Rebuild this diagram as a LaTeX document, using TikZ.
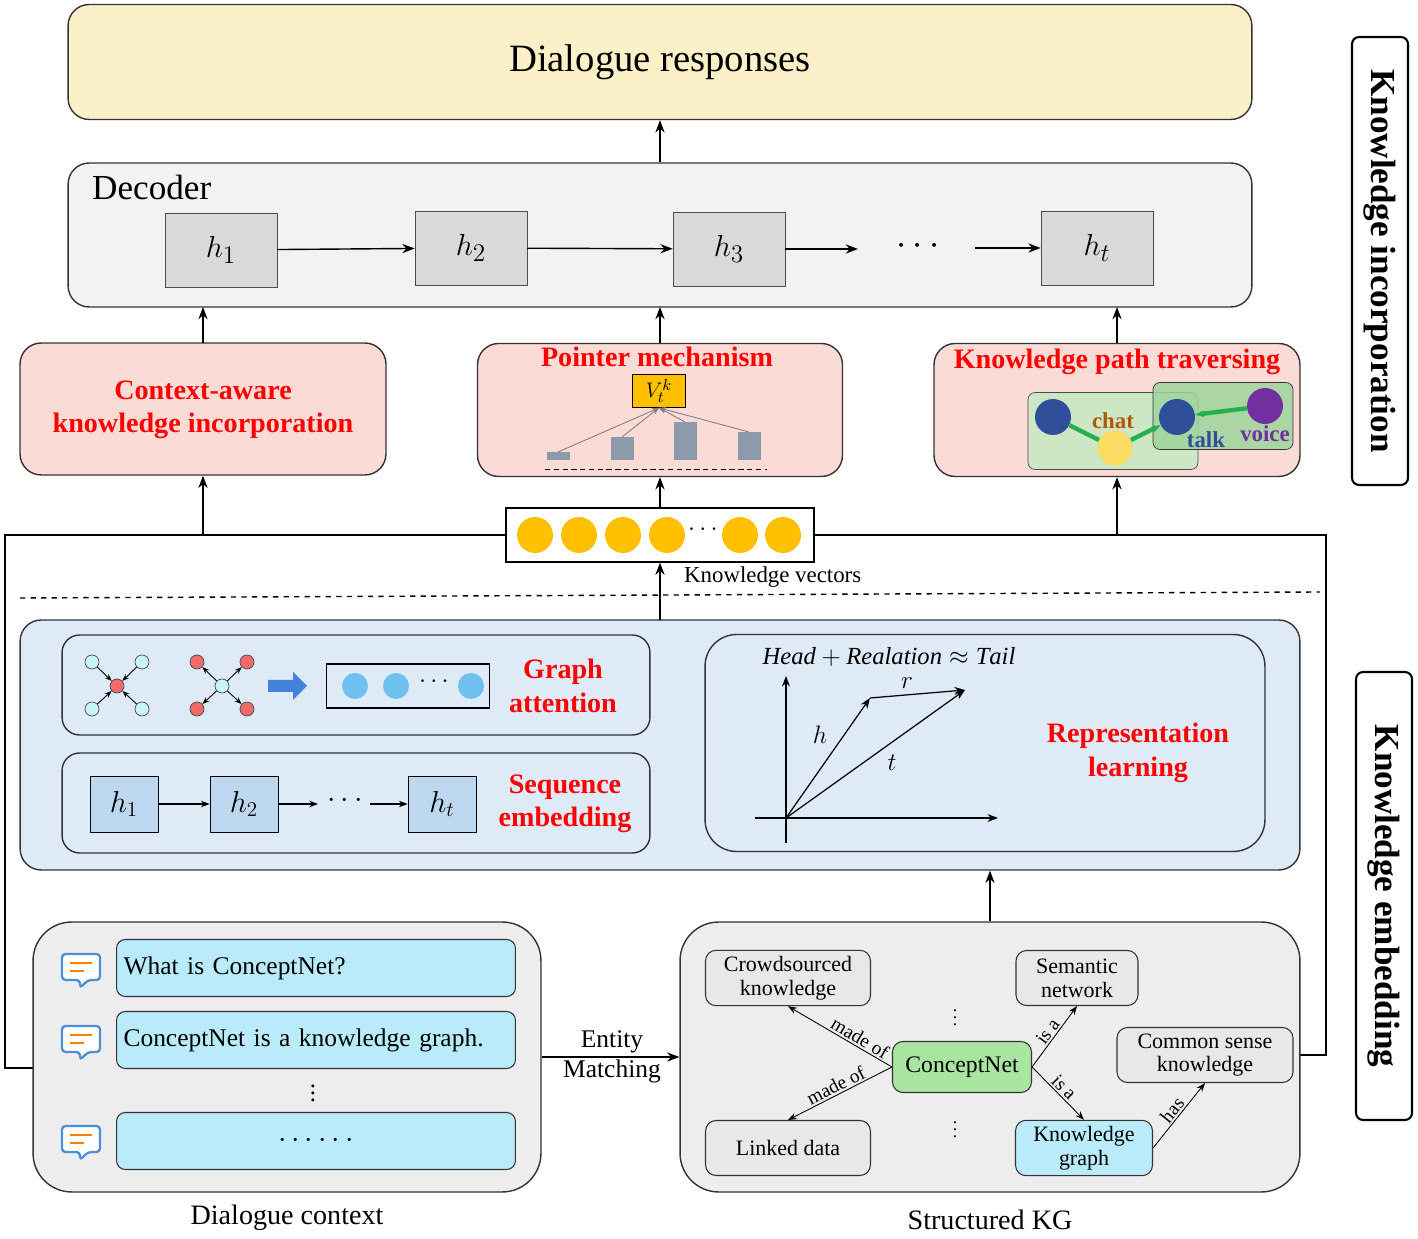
\documentclass[tikz,border=0pt]{standalone}
\usepackage{fontspec}
\setmainfont{Liberation Serif}
\usetikzlibrary{arrows.meta,calc}
\definecolor{resp}{HTML}{FCF0C8}
\definecolor{dec}{HTML}{F2F2F2}
\definecolor{hbox}{HTML}{D9D9D9}
\definecolor{pink}{HTML}{FADBD5}
\definecolor{kyel}{HTML}{FFC000}
\definecolor{lblue}{HTML}{DEEAF6}
\definecolor{sblue}{HTML}{BDD7EE}
\definecolor{cyanb}{HTML}{B9EBFA}
\definecolor{ggray}{HTML}{EDEDED}
\definecolor{cgreen}{HTML}{A9E5A0}
\definecolor{bar}{HTML}{8C9BAA}
\definecolor{redt}{HTML}{FF0000}
\definecolor{nblue}{HTML}{2F4F9A}
\definecolor{gline}{HTML}{22B14C}
\definecolor{purp}{HTML}{7030A0}
\definecolor{cir}{HTML}{6EC1EE}
\definecolor{tcyan}{HTML}{C8F4F4}
\definecolor{tred}{HTML}{F06A6A}
\definecolor{icon}{HTML}{4C8FD6}
\definecolor{gbox1}{HTML}{CDE6C4}
\definecolor{gbox2}{HTML}{9ED49A}
\tikzset{
 x=0.02cm,y=-0.02cm,
 rbox/.style={draw=black!80,rounded corners=12pt,line width=0.8pt},
 sbox/.style={draw=black!80,rounded corners=6pt,line width=0.6pt,align=center,font=\fontsize{12.5}{13.5}\selectfont},
 hb/.style={draw=black!70,fill=hbox,minimum width=2.24cm,minimum height=1.48cm,font=\fontsize{19}{19}\selectfont},
 sq/.style={draw=black,fill=sblue,minimum width=1.36cm,minimum height=1.12cm,font=\fontsize{18}{18}\selectfont},
 arr/.style={-{Stealth[length=7pt]},line width=0.8pt},
 red title/.style={text=redt,font=\bfseries\fontsize{16}{19}\selectfont,align=center},
 kv/.style={circle,fill=kyel,minimum size=0.72cm,inner sep=0},
 ut/.style={draw=black!80,fill=cyanb,rounded corners=5pt,line width=0.6pt,minimum width=7.98cm,minimum height=1.14cm,text width=7.7cm,align=left,anchor=west,font=\fontsize{14.5}{15}\selectfont},
 sat/.style={circle,draw=black!70,inner sep=0,minimum size=0.28cm},
 ga/.style={-{Stealth[length=4pt]},line width=0.5pt},
 side/.style={draw=black,line width=1.2pt,rounded corners=4pt,font=\bfseries\fontsize{20}{20}\selectfont,rotate=-90,minimum width=8.96cm,minimum height=1.12cm}
}
\begin{document}
\begin{tikzpicture}
\useasboundingbox (0,0) rectangle (1418,1239);
% top
\node[rbox,fill=resp,minimum width=23.68cm,minimum height=2.3cm,font=\fontsize{22}{22}\selectfont] (resp) at (660,62) {Dialogue responses};
\node[rbox,fill=dec,minimum width=23.68cm,minimum height=2.88cm] (dec) at (660,235) {};
\node[anchor=west,font=\fontsize{20}{20}\selectfont] (dect) at (86,187) {Decoder};
\node[hb] (h1) at (221,250) {$h_1$};
\node[hb] (h2) at (471,248) {$h_2$};
\node[hb] (h3) at (729,249) {$h_3$};
\node[hb] (ht) at (1097,248) {$h_t$};
\node[font=\fontsize{20}{20}\selectfont] (hd) at (918,246) {$\cdots$};
\coordinate (hd1) at (858,249); \coordinate (hd2) at (975,248);
\draw[arr] (h1) -- (h2); \draw[arr] (h2) -- (h3); \draw[arr] (h3) -- (hd1); \draw[arr] (hd2) -- (ht);
\draw[arr] (dec.north) -- (resp.south);
% pink boxes
\node[rbox,fill=pink,minimum width=7.32cm,minimum height=2.64cm] (ctx) at (203,409) {};
\node[red title] (ctxt) at (203,410) {Context-aware\\knowledge incorporation};
\node[rbox,fill=pink,minimum width=7.3cm,minimum height=2.66cm] (ptr) at (660,410) {};
\node[red title] (ptrt) at (657,357) {Pointer mechanism};
\node[rbox,fill=pink,minimum width=7.32cm,minimum height=2.66cm] (kpt) at (1117,410) {};
\node[red title] (kptt) at (1117,362) {Knowledge path traversing};
\foreach \x in {203,660,1117} \draw[arr] (\x,343) -- (\x,307);
% pointer internals
\node[draw=black,fill=kyel,minimum width=1.06cm,minimum height=0.66cm,inner sep=0,font=\fontsize{13}{13}\selectfont] (vtk) at (659,391) {$V_t^k$};
\fill[bar] (547,452) rectangle (570,460);
\fill[bar] (611,437) rectangle (634,460);
\fill[bar] (674,422) rectangle (697,460);
\fill[bar] (738,432) rectangle (761,460);
\draw[densely dashed,line width=0.5pt] (545,469) -- (767,469);
\foreach \x/\y in {558/452,622/437,685/422,749/432} \draw[-{Stealth[length=4pt]},gray,line width=0.5pt] (\x,\y) -- (vtk.south);
% path internals
\node[draw=black!70,fill=gbox1,rounded corners=4pt,minimum width=3.4cm,minimum height=1.54cm] (g1) at (1113,431) {};
\node[draw=black!80,fill=gbox2,fill opacity=0.85,rounded corners=4pt,minimum width=2.8cm,minimum height=1.34cm] (g2) at (1223,416) {};
\node[circle,fill=nblue,minimum size=0.72cm,inner sep=0] (c1) at (1053,417) {};
\node[circle,fill=yellow!60!orange!60,minimum size=0.7cm,inner sep=0] (c2) at (1115,448) {};
\node[circle,fill=nblue,minimum size=0.72cm,inner sep=0] (c3) at (1177,417) {};
\node[circle,fill=purp,minimum size=0.72cm,inner sep=0] (c4) at (1265,406) {};
\draw[gline,line width=2.5pt] (c1) -- (c2);
\draw[gline,line width=2.5pt,-{Stealth[length=5pt]}] (c2) -- (c3);
\draw[gline,line width=2.5pt,-{Stealth[length=5pt]}] (c4) -- (c3);
\node[text=orange!70!black,font=\bfseries\fontsize{13}{13}\selectfont] (chat) at (1113,421) {chat};
\node[text=nblue,font=\bfseries\fontsize{13}{13}\selectfont] (talk) at (1206,440) {talk};
\node[text=purp,font=\bfseries\fontsize{13}{13}\selectfont] (voice) at (1265,434) {voice};
% knowledge vectors
\node[draw=black,line width=0.7pt,minimum width=6.16cm,minimum height=1.08cm] (kv) at (660,535) {};
\foreach \x/\n in {535/k1,579/k2,623/k3,667/k4,740/k5,783/k6} \node[kv] (\n) at (\x,535) {};
\node[font=\fontsize{15}{15}\bfseries] (kvd) at (703,530) {$\cdots$};
\node[font=\fontsize{13}{13}\selectfont,anchor=west] (kvt) at (678,577) {Knowledge vectors};
\coordinate (L1) at (5,535); \coordinate (L2) at (5,1068);
\coordinate (R1) at (1326,535); \coordinate (R2) at (1326,1055);
\draw[line width=0.8pt] (kv.west) -- (L1) -- (L2) -- (33,1068);
\draw[line width=0.8pt] (kv.east) -- (R1) -- (R2) -- (1300,1055);
\draw[arr] (203,535) -- (ctx.south);
\draw[arr] (1117,535) -- (kpt.south);
\draw[arr] (kv.north) -- (ptr.south);
\draw[dashed,line width=0.8pt] (20,598) -- (1320,592);
% embedding region
\node[rbox,fill=lblue,minimum width=25.6cm,minimum height=5cm] (emb) at (660,745) {};
\draw[arr] (660,620) -- (kv.south);
\node[rbox,rounded corners=10pt,minimum width=11.76cm,minimum height=2cm] (gab) at (356,685) {};
\node[rbox,rounded corners=10pt,minimum width=11.76cm,minimum height=2cm] (seb) at (356,803) {};
\node[rbox,rounded corners=18pt,minimum width=11.2cm,minimum height=4.34cm] (rlb) at (985,743) {};
% graph attention
\node[sat,fill=tred] (ca) at (117,686) {};
\foreach \dx/\dy/\n in {-25/-24/a1,25/-24/a2,-25/23/a3,25/23/a4} {\node[sat,fill=tcyan] (\n) at (117+\dx,686+\dy) {}; \draw[ga] (\n) -- (ca);}
\node[sat,fill=tcyan] (cb) at (222,686) {};
\foreach \dx/\dy/\n in {-25/-24/b1,25/-24/b2,-25/23/b3,25/23/b4} {\node[sat,fill=tred] (\n) at (222+\dx,686+\dy) {}; \draw[ga] (cb) -- (\n);}
\fill[icon!90!blue] (268,680) -- (293,680) -- (293,672) -- (307,686) -- (293,700) -- (293,692) -- (268,692) -- cycle;
\node[draw=black,line width=0.7pt,minimum width=3.26cm,minimum height=0.88cm] (gv) at (408,686) {};
\foreach \x in {355,396,471} \fill[cir] (\x,686) circle (13);
\node[font=\fontsize{15}{15}\bfseries] (gvd) at (434,682) {$\cdots$};
\node[red title] (gat) at (563,686) {Graph\\attention};
% sequence
\node[sq] (s1) at (124,804) {$h_1$};
\node[sq] (s2) at (244,804) {$h_2$};
\node[sq] (st) at (442,804) {$h_t$};
\node[font=\fontsize{16}{16}\selectfont] (sd) at (345,801) {$\cdots$};
\coordinate (sd1) at (318,804); \coordinate (sd2) at (370,804);
\draw[-{Stealth[length=5pt]},line width=0.6pt] (s1) -- (s2);
\draw[-{Stealth[length=5pt]},line width=0.6pt] (s2) -- (sd1);
\draw[-{Stealth[length=5pt]},line width=0.6pt] (sd2) -- (st);
\node[red title] (set) at (565,804) {Sequence\\embedding};
% representation
\coordinate (O) at (786,818);
\draw[-{Stealth[length=6pt]},line width=0.7pt] (755,818) -- (998,818);
\draw[-{Stealth[length=6pt]},line width=0.7pt] (786,843) -- (786,676);
\coordinate (H) at (870,698); \coordinate (T) at (965,690);
\draw[-{Stealth[length=6pt]},line width=0.7pt] (O) -- (H);
\draw[-{Stealth[length=6pt]},line width=0.7pt] (H) -- (T);
\draw[-{Stealth[length=6pt]},line width=0.7pt] (O) -- (T);
\node[font=\fontsize{15}{15}\selectfont] (hl) at (820,735) {$h$};
\node[font=\fontsize{15}{15}\selectfont] (rl) at (907,683) {$r$};
\node[font=\fontsize{15}{15}\selectfont] (tl) at (892,763) {$t$};
\node[font=\fontsize{14}{14}\selectfont] (eq) at (889,657) {$\mathit{Head}+\mathit{Realation}\approx \mathit{Tail}$};
\node[red title] (rlt) at (1138,753) {Representation\\learning};
% dialogue context
\node[rbox,fill=ggray,rounded corners=22pt,minimum width=10.16cm,minimum height=5.4cm] (dc) at (287,1057) {};
\node[ut] (u1) at (116,968) {What is ConceptNet?};
\node[ut] (u2) at (116,1040) {ConceptNet is a knowledge graph.};
\node[ut,align=center,font=\fontsize{16}{16}\selectfont] (u3) at (116,1141) {$\cdots\cdots$};
\node[font=\fontsize{14}{14}\selectfont] (ud) at (313,1088) {$\vdots$};
\foreach \y/\n in {968/i1,1040/i2,1140/i3} {
 \draw[icon,line width=1.3pt,rounded corners=2pt,fill=white] (62,\y-14) -- (100,\y-14) -- (100,\y+12) -- (88,\y+12) -- (80,\y+20) -- (80,\y+12) -- (62,\y+12) -- cycle;
 \draw[orange,line width=1.5pt] (70,\y-5) -- (92,\y-5) (70,\y+3) -- (84,\y+3);
}
\node[font=\fontsize{16}{16}\selectfont] (dct) at (287,1218) {Dialogue context};
% structured KG
\node[rbox,fill=ggray,rounded corners=22pt,minimum width=12.4cm,minimum height=5.4cm] (kg) at (990,1057) {};
\draw[arr] (kg.north) -- (emb.south -| kg.north);
\draw[arr] (dc.east |- 0,1057) -- (kg.west);
\node[font=\fontsize{14.5}{17}\selectfont,align=center] (em) at (612,1057) {Entity\\Matching};
\node[font=\fontsize{16}{16}\selectfont] (kgt) at (990,1220) {Structured KG};
\node[sbox,fill=hbox!60,minimum width=3.3cm,minimum height=1.1cm] (cs) at (788,978) {Crowdsourced\\knowledge};
\node[sbox,fill=hbox!60,minimum width=2.44cm,minimum height=1.1cm] (sn) at (1077,978) {Semantic\\network};
\node[sbox,fill=hbox!60,minimum width=3.52cm,minimum height=1.1cm] (csk) at (1205,1055) {Common sense\\knowledge};
\node[sbox,fill=cgreen,minimum width=2.78cm,minimum height=1.02cm,font=\fontsize{13.5}{14}\selectfont] (cn) at (962,1067) {ConceptNet};
\node[sbox,fill=hbox!60,minimum width=3.3cm,minimum height=1.1cm] (ld) at (788,1148) {Linked data};
\node[sbox,fill=cyanb,minimum width=2.74cm,minimum height=1.1cm] (kgn) at (1084,1148) {Knowledge\\graph};
\node (v1) at (955,1012) {$\vdots$};
\node (v2) at (955,1124) {$\vdots$};
\tikzset{el/.style={font=\fontsize{11}{11}\selectfont,sloped,inner sep=1pt}}
\draw[-{Stealth[length=5pt]},line width=0.5pt] (cn.west) -- node[el,above,pos=0.35] {made of} (cs.south);
\draw[-{Stealth[length=5pt]},line width=0.5pt] (cn.west) -- node[el,above] {made of} (ld.north);
\draw[-{Stealth[length=5pt]},line width=0.5pt] (cn.east) -- node[el,above] {is a} (sn.south);
\draw[-{Stealth[length=5pt]},line width=0.5pt] (cn.east) -- node[el,above] {is a} (kgn.north);
\draw[-{Stealth[length=5pt]},line width=0.5pt] (kgn.east) -- node[el,above] {has} (csk.south);
% side labels
\node[side] (ki) at (1380,261) {Knowledge incorporation};
\node[side] (ke) at (1384,896) {Knowledge embedding};
\end{tikzpicture}
\end{document}
